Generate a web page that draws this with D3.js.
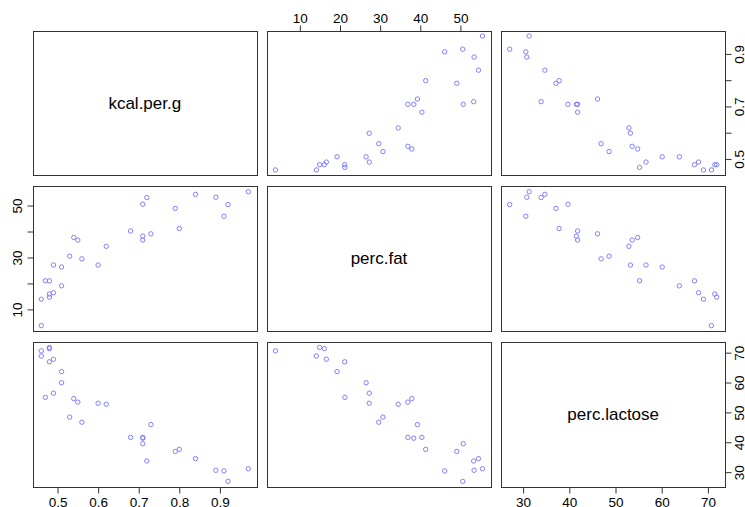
<!DOCTYPE html>
<html>
<head>
<meta charset="utf-8">
<script src="https://cdn.jsdelivr.net/npm/d3@7"></script>
<style>
  body { margin: 0; background: #fff; }
  svg text { font-family: "Liberation Sans", Arial, Helvetica, sans-serif; fill: #000; }
</style>
</head>
<body>
<div id="chart"></div>
<script>
// milk data: one entry per species
const kcalPerG = [0.49, 0.51, 0.46, 0.48, 0.60, 0.47, 0.56, 0.89, 0.91, 0.92,
    0.80, 0.46, 0.71, 0.71, 0.71, 0.48, 0.48, 0.49, 0.51, 0.53,
    0.54, 0.55, 0.62, 0.68, 0.72, 0.73, 0.79, 0.84, 0.97];
const percFat = [16.60, 19.27, 14.11, 14.91, 27.28, 21.22, 29.66, 53.41, 46.08, 50.58,
    41.35, 3.93, 38.38, 36.90, 50.70, 16.10, 21.18, 27.30, 26.50, 30.70,
    37.90, 36.90, 34.50, 40.40, 53.30, 39.30, 49.10, 54.50, 55.51];
const percLactose = [67.98, 63.82, 69.04, 71.91, 53.22, 55.20, 46.88, 30.79, 30.58, 27.09,
    37.80, 70.77, 41.53, 41.80, 39.70, 71.50, 67.10, 56.60, 60.10, 48.60,
    54.80, 53.60, 52.90, 41.80, 33.90, 46.10, 37.10, 34.70, 31.30];

const varNames = ['kcal.per.g', 'perc.fat', 'perc.lactose'];

// tick values and which of them get a label on the rotated (side) axes
const kcalTicks = [0.5, 0.6, 0.7, 0.8, 0.9];
const kcalSideLabels = [0.5, 0.7, 0.9];
const fatTicks = [10, 20, 30, 40, 50];
const fatSideLabels = [10, 30, 50];
const lactoseTicks = [30, 40, 50, 60, 70];
const lactoseSideLabels = [30, 40, 50, 60, 70];

const columns = [kcalPerG, percFat, percLactose];
const ticks = [kcalTicks, fatTicks, lactoseTicks];
const sideLabels = [kcalSideLabels, fatSideLabels, lactoseSideLabels];

const width = 745;
const height = 507;
const marginLeft = 33, marginTop = 30.7;
const panelW = 223.6, panelH = 144.6;
const gapX = 10.6, gapY = 11.1;
const tickLen = 6;
const pointColor = '#8080ff';

const svg = d3.select('#chart')
    .append('svg')
    .attr('width', width)
    .attr('height', height);

// R style extended range (4% each side)
function extDomain(vals) {
    const [lo, hi] = d3.extent(vals);
    const pad = (hi - lo) * 0.04;
    return [lo - pad, hi + pad];
}

const n = columns.length;
const xScales = columns.map((vals, j) => {
    const x0 = marginLeft + j * (panelW + gapX);
    return d3.scaleLinear().domain(extDomain(vals)).range([x0, x0 + panelW]);
});
const yScales = columns.map((vals, i) => {
    const y0 = marginTop + i * (panelH + gapY);
    return d3.scaleLinear().domain(extDomain(vals)).range([y0 + panelH, y0]);
});

const fmt = v => String(v);

function styleAxis(a) {
    a.select('.domain').remove();
    a.selectAll('.tick line').attr('stroke', '#333');
    a.selectAll('.tick text')
        .style('font-size', '13.5px')
        .attr('fill', '#000');
}

// vertical axis with rotated labels, dir = -1 for left, 1 for right
function sideAxis(y, xPos, dir, tickVals, labelVals) {
    const a = svg.append('g');
    a.selectAll('line')
        .data(tickVals)
        .join('line')
        .attr('x1', xPos)
        .attr('x2', xPos + dir * tickLen)
        .attr('y1', d => y(d))
        .attr('y2', d => y(d))
        .attr('stroke', '#333');
    const baseX = dir < 0 ? xPos - 11.5 : xPos + 18.5;
    a.selectAll('text')
        .data(labelVals)
        .join('text')
        .attr('transform', d => `translate(${baseX},${y(d)}) rotate(-90)`)
        .attr('text-anchor', 'middle')
        .style('font-size', '13.5px')
        .text(fmt);
}

for (let i = 0; i < n; i++) {
    for (let j = 0; j < n; j++) {
        const x = xScales[j];
        const y = yScales[i];
        const x0 = x.range()[0], x1 = x.range()[1];
        const y0 = y.range()[1], y1 = y.range()[0];
        const g = svg.append('g');

        if (i === j) {
            // diagonal: variable name
            g.append('text')
                .attr('x', (x0 + x1) / 2)
                .attr('y', (y0 + y1) / 2)
                .attr('text-anchor', 'middle')
                .attr('dominant-baseline', 'central')
                .style('font-size', '17px')
                .text(varNames[i]);
        } else {
            g.selectAll('circle')
                .data(d3.range(columns[j].length))
                .join('circle')
                .attr('cx', k => x(columns[j][k]))
                .attr('cy', k => y(columns[i][k]))
                .attr('r', 2.2)
                .attr('fill', 'none')
                .attr('stroke', pointColor)
                .attr('stroke-width', 1);
        }

        // panel box
        g.append('rect')
            .attr('x', Math.round(x0) + 0.5)
            .attr('y', Math.round(y0) + 0.5)
            .attr('width', Math.round(x1) - Math.round(x0))
            .attr('height', Math.round(y1) - Math.round(y0))
            .attr('fill', 'none')
            .attr('stroke', '#333')
            .attr('stroke-width', 1);

        // top axis on even columns of the first row
        if (i === 0 && j % 2 === 1) {
            const a = svg.append('g')
                .attr('transform', `translate(0,${Math.round(y0) + 0.5})`)
                .call(d3.axisTop(x).tickValues(ticks[j]).tickSize(tickLen).tickPadding(3).tickFormat(fmt));
            styleAxis(a);
        }
        // bottom axis on odd columns of the last row
        if (i === n - 1 && j % 2 === 0) {
            const a = svg.append('g')
                .attr('transform', `translate(0,${Math.round(y1) + 0.5})`)
                .call(d3.axisBottom(x).tickValues(ticks[j]).tickSize(tickLen).tickPadding(4).tickFormat(fmt));
            styleAxis(a);
        }
        // left axis on even rows of the first column
        if (j === 0 && i % 2 === 1) {
            sideAxis(y, Math.round(x0) + 0.5, -1, ticks[i], sideLabels[i]);
        }
        // right axis on odd rows of the last column
        if (j === n - 1 && i % 2 === 0) {
            sideAxis(y, Math.round(x1) + 0.5, 1, ticks[i], sideLabels[i]);
        }
    }
}
</script>
</body>
</html>
